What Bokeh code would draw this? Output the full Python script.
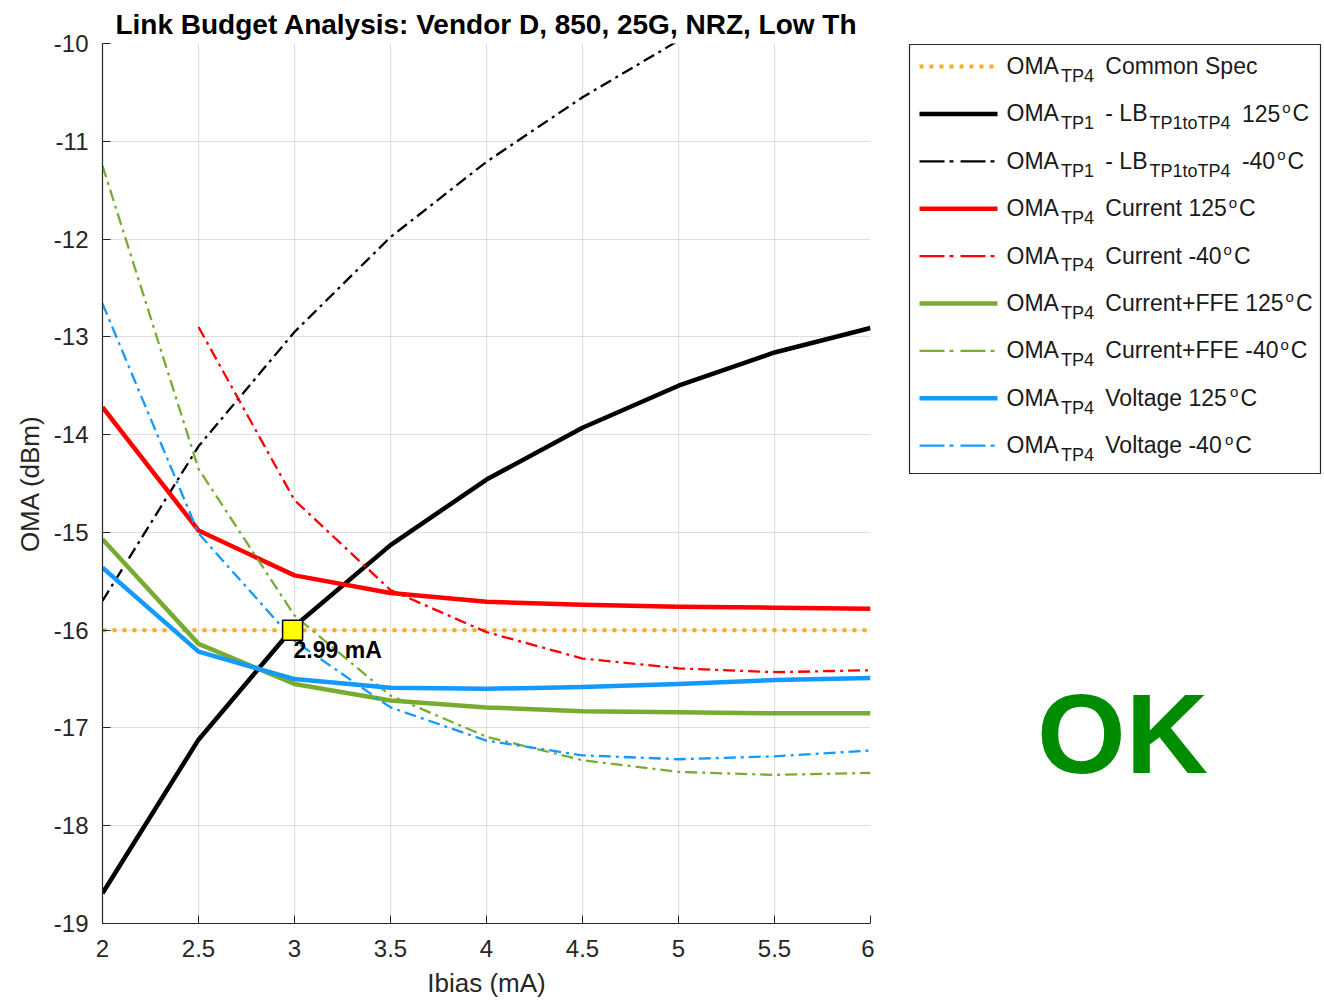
from bokeh.plotting import figure
from bokeh.models import Range1d, FixedTicker, ColumnDataSource
from bokeh.layouts import row
from bokeh.embed import file_html
from bokeh.resources import INLINE
from bokeh.core.properties import value

# ---------------- data ----------------
ibias = [2.0, 2.5, 3.0, 3.5, 4.0, 4.5, 5.0, 5.5, 6.0]
lb_125 = [-18.69, -17.12, -15.96, -15.13, -14.46, -13.93, -13.50, -13.16, -12.91]
lb_m40 = [-15.70, -14.12, -12.95, -11.98, -11.21, -10.55, -9.97, -9.47, -9.02]
current_125 = [-13.72, -14.98, -15.44, -15.62, -15.71, -15.74, -15.76, -15.77, -15.78]
ibias_current_m40 = [2.5, 3.0, 3.5, 4.0, 4.5, 5.0, 5.5, 6.0]
current_m40 = [-12.90, -14.67, -15.59, -16.02, -16.29, -16.39, -16.43, -16.41]
ffe_125 = [-15.07, -16.14, -16.55, -16.72, -16.79, -16.83, -16.84, -16.85, -16.85]
ffe_m40 = [-11.25, -14.35, -15.85, -16.67, -17.09, -17.33, -17.45, -17.48, -17.46]
voltage_125 = [-15.36, -16.22, -16.50, -16.59, -16.60, -16.58, -16.55, -16.51, -16.49]
voltage_m40 = [-12.66, -15.01, -16.11, -16.79, -17.13, -17.28, -17.32, -17.29, -17.23]
spec_ibias = [2.0, 6.0]
spec_oma = [-16.0, -16.0]
cross_ibias = [2.99]
cross_oma = [-16.0]
cross_label = ["2.99 mA"]

x_ticks = [2.0, 2.5, 3.0, 3.5, 4.0, 4.5, 5.0, 5.5, 6.0]
x_tick_labels = ["2", "2.5", "3", "3.5", "4", "4.5", "5", "5.5", "6"]
y_ticks = [-19, -18, -17, -16, -15, -14, -13, -12, -11, -10]
y_tick_labels = ["-19", "-18", "-17", "-16", "-15", "-14", "-13", "-12", "-11", "-10"]

title_text = "Link Budget Analysis: Vendor D, 850, 25G, NRZ, Low Th"
x_label = "Ibias (mA)"
y_label = "OMA (dBm)"
status_text = "OK"

legend_segments = [
    [("OMA", "m"), ("TP4", "sub"), (" Common Spec", "m")],
    [("OMA", "m"), ("TP1", "sub"), (" - LB", "m"), ("TP1toTP4", "sub"), (" 125", "m"), ("o", "sup"), ("C", "m")],
    [("OMA", "m"), ("TP1", "sub"), (" - LB", "m"), ("TP1toTP4", "sub"), (" -40", "m"), ("o", "sup"), ("C", "m")],
    [("OMA", "m"), ("TP4", "sub"), (" Current 125", "m"), ("o", "sup"), ("C", "m")],
    [("OMA", "m"), ("TP4", "sub"), (" Current -40", "m"), ("o", "sup"), ("C", "m")],
    [("OMA", "m"), ("TP4", "sub"), (" Current+FFE 125", "m"), ("o", "sup"), ("C", "m")],
    [("OMA", "m"), ("TP4", "sub"), (" Current+FFE -40", "m"), ("o", "sup"), ("C", "m")],
    [("OMA", "m"), ("TP4", "sub"), (" Voltage 125", "m"), ("o", "sup"), ("C", "m")],
    [("OMA", "m"), ("TP4", "sub"), (" Voltage -40", "m"), ("o", "sup"), ("C", "m")],
]

# ---------------- styles ----------------
FONT = "Liberation Sans"
ORANGE = "#EDB120"
RED = "#FF0000"
GREEN = "#77AC30"
BLUE = "#1499FF"
DASHDOT = "12 5 3 5"
LEG_DASHDOT = "25 5 4 7"
THIN = 2.3
BASE_FIX = 0.37   # alphabetic-baseline correction (fraction of font size)

series = [
    (spec_ibias, spec_oma, ORANGE, 4, "4 6", "4 6"),
    (ibias, lb_125, "black", 4.5, "solid", "solid"),
    (ibias, lb_m40, "black", THIN, DASHDOT, LEG_DASHDOT),
    (ibias, current_125, RED, 4.5, "solid", "solid"),
    (ibias_current_m40, current_m40, RED, THIN, DASHDOT, LEG_DASHDOT),
    (ibias, ffe_125, GREEN, 4.5, "solid", "solid"),
    (ibias, ffe_m40, GREEN, THIN, DASHDOT, LEG_DASHDOT),
    (ibias, voltage_125, BLUE, 4.5, "solid", "solid"),
    (ibias, voltage_m40, BLUE, THIN, DASHDOT, LEG_DASHDOT),
]

# ---------------- main plot ----------------
MAIN_W = 874
TOTAL_H = 1003
p = figure(width=MAIN_W, height=TOTAL_H,
           x_range=Range1d(2, 6), y_range=Range1d(-19, -10),
           output_backend="svg", toolbar_location=None,
           min_border_left=102, min_border_right=4,
           min_border_top=43, min_border_bottom=TOTAL_H - 43 - 880,
           title=title_text)
p.title.text_font = FONT
p.title.text_font_size = "28px"
p.title.text_font_style = "bold"
p.title.align = "center"
p.title.standoff = 8
p.title.text_color = "black"
p.outline_line_color = None
p.background_fill_color = "white"
p.border_fill_color = "white"

p.xaxis.ticker = FixedTicker(ticks=x_ticks)
p.xaxis.major_label_overrides = {t: l for t, l in zip(x_ticks, x_tick_labels)}
p.yaxis.ticker = FixedTicker(ticks=y_ticks)
p.yaxis.major_label_overrides = {t: l for t, l in zip(y_ticks, y_tick_labels)}
p.xgrid.ticker = FixedTicker(ticks=x_ticks)
p.ygrid.ticker = FixedTicker(ticks=y_ticks)

for ax in (p.xaxis, p.yaxis):
    ax.axis_line_color = "#262626"
    ax.axis_line_width = 1.2
    ax.major_tick_line_color = "#262626"
    ax.major_tick_in = 8
    ax.major_tick_out = 0
    ax.minor_tick_line_color = None
    ax.major_label_text_font = FONT
    ax.major_label_text_font_size = "24px"
    ax.major_label_text_color = "#262626"
    ax.axis_label_text_font = FONT
    ax.axis_label_text_font_size = "26px"
    ax.axis_label_text_font_style = "normal"
    ax.axis_label_text_color = "#262626"
p.xaxis.axis_label = x_label
p.yaxis.axis_label = y_label
p.xaxis.major_label_standoff = 16
p.xaxis.axis_label_standoff = 8
p.yaxis.major_label_standoff = 14
p.yaxis.axis_label_standoff = 6

p.grid.grid_line_color = "#dedede"
p.grid.grid_line_width = 1

for xs, ys, color, w, dash, _ in series:
    p.line(xs, ys, line_color=color, line_width=w, line_dash=dash, line_join="round")

p.scatter(cross_ibias, cross_oma, marker="square", size=20,
          fill_color="#FFFF00", line_color="black", line_width=1.5)
p.text(cross_ibias, cross_oma, text=cross_label, x_offset=1, y_offset=28 - BASE_FIX * 23,
       text_font=value(FONT), text_font_size="23px", text_font_style="bold",
       text_color="black", text_align="left", text_baseline="alphabetic")

# ---------------- legend / status panel (coordinates = page pixels) ----------------
W = {' ': 278, '-': 333, '+': 584, 'A': 667, 'B': 667, 'C': 722, 'E': 667, 'F': 611,
     'L': 556, 'M': 833, 'O': 778, 'P': 667, 'S': 667, 'T': 611, 'V': 667,
     'a': 556, 'c': 500, 'e': 556, 'g': 556, 'l': 222, 'm': 833, 'n': 556,
     'o': 556, 'p': 556, 'r': 333, 't': 278, 'u': 556}
for d in "0123456789":
    W[d] = 556


def text_w(s, size):
    return sum(W.get(c, 556) for c in s) * size / 1000.0


SIZES = {"m": 23, "sub": 18, "sup": 15}
DY = {"m": 8, "sub": 16, "sup": -1}

SIDE_W = 1324 - MAIN_W
p2 = figure(width=SIDE_W, height=TOTAL_H,
            x_range=Range1d(MAIN_W, 1324), y_range=Range1d(923, 43),
            output_backend="svg", toolbar_location=None,
            x_axis_type=None, y_axis_type=None,
            min_border_left=0, min_border_right=0,
            min_border_top=43, min_border_bottom=TOTAL_H - 43 - 880)
p2.outline_line_color = None
p2.grid.visible = False
p2.background_fill_color = "white"
p2.border_fill_color = "white"

p2.quad(left=[909], right=[1320], top=[44], bottom=[473],
        fill_color="white", line_color="#262626", line_width=1.2)

row0 = 66.0
step = 47.4
tx, ty, tt, ts = [], [], [], []
for i, (segs, st) in enumerate(zip(legend_segments, series)):
    yc = row0 + i * step
    _, _, color, w, _, ldash = st
    p2.line([919, 997], [yc, yc], line_color=color, line_width=w, line_dash=ldash)
    x = 1006.0
    for txt, kind in segs:
        size = SIZES[kind]
        if kind != "m":
            x += 2
        if txt.startswith(" "):
            x += text_w(" ", size) + 3
            txt = txt[1:]
        tx.append(x)
        ty.append(yc + DY[kind] - BASE_FIX * size)
        tt.append(txt)
        ts.append("%dpx" % size)
        x += text_w(txt, size)
        if kind != "m":
            x += 2

src = ColumnDataSource(dict(x=tx, y=ty, text=tt, size=ts))
p2.text(x="x", y="y", text="text", text_font_size="size", source=src,
        text_font=value(FONT), text_color="#1a1a1a",
        text_align="left", text_baseline="alphabetic")

p2.text(x=[1122], y=[775 - BASE_FIX * 114], text=[status_text], text_font=value(FONT),
        text_font_size="114px", text_font_style="bold", text_color="#008C00",
        text_align="center", text_baseline="alphabetic")

layout = row(p, p2)
open("out.html", "w").write(file_html(layout, INLINE))
